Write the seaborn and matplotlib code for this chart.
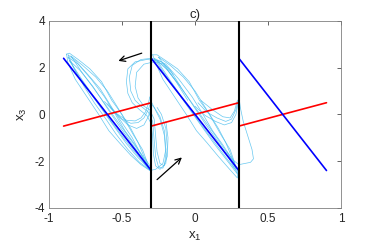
import numpy as np
import pandas as pd
import seaborn as sns
import matplotlib.pyplot as plt

# switching boundaries and the eigen-lines of each region
bounds = [-0.3, 0.3]
blue_x = [[-0.9, -0.3], [-0.3, 0.3], [0.3, 0.9]]
blue_y = [[2.4, -2.4], [2.4, -2.4], [2.4, -2.4]]
red_x = [[-0.9, -0.3], [-0.3, 0.3], [0.3, 0.9]]
red_y = [[-0.5, 0.5], [-0.5, 0.5], [-0.5, 0.5]]

# trajectory pieces (x1, x3)
traj = {
    'L1': [(-0.88, 2.58), (-0.87, 2.2), (-0.82, 1.5), (-0.74, 0.75), (-0.66, 0.0), (-0.59, -0.7),
           (-0.52, -1.2), (-0.44, -1.75), (-0.37, -2.15), (-0.31, -2.4), (-0.31, -2.2), (-0.35, -1.8),
           (-0.39, -1.2), (-0.44, -0.6), (-0.50, 0.0), (-0.57, 0.6), (-0.64, 1.4), (-0.72, 1.95),
           (-0.80, 2.35), (-0.86, 2.62), (-0.88, 2.58)],
    'L2': [(-0.87, 2.45), (-0.81, 1.75), (-0.72, 0.95), (-0.63, 0.15), (-0.55, -0.55), (-0.47, -1.25),
           (-0.39, -1.85), (-0.31, -2.35), (-0.34, -1.95), (-0.41, -1.3), (-0.48, -0.7), (-0.55, 0.05),
           (-0.62, 0.75), (-0.71, 1.5), (-0.80, 2.15), (-0.87, 2.45)],
    'L3': [(-0.86, 2.3), (-0.77, 1.45), (-0.67, 0.55), (-0.58, -0.25), (-0.49, -1.0), (-0.40, -1.7),
           (-0.32, -2.3), (-0.37, -1.8), (-0.45, -1.1), (-0.53, -0.4), (-0.61, 0.35), (-0.70, 1.2),
           (-0.79, 1.9), (-0.86, 2.3)],
    'L4': [(-0.85, 2.5), (-0.78, 1.85), (-0.68, 1.0), (-0.60, 0.3), (-0.53, -0.3), (-0.45, -1.0),
           (-0.37, -1.7), (-0.32, -2.25), (-0.33, -2.0), (-0.36, -1.5), (-0.42, -0.9), (-0.47, -0.35),
           (-0.53, 0.3), (-0.60, 1.0), (-0.68, 1.6), (-0.77, 2.1), (-0.85, 2.5)],
    'L5': [(-0.87, 2.55), (-0.83, 2.0), (-0.76, 1.2), (-0.69, 0.5), (-0.61, -0.2), (-0.54, -0.85),
           (-0.46, -1.5), (-0.38, -2.05), (-0.31, -2.38), (-0.33, -2.15), (-0.38, -1.6), (-0.43, -1.0),
           (-0.49, -0.45), (-0.56, 0.2), (-0.65, 1.1), (-0.74, 1.75), (-0.82, 2.3), (-0.87, 2.55)],
    'S1': [(-0.62, 0.55), (-0.56, 0.15), (-0.50, -0.2), (-0.44, -0.38), (-0.39, -0.35), (-0.35, -0.15),
           (-0.32, 0.2), (-0.30, 0.6)],
    'S2': [(-0.60, 0.45), (-0.54, 0.05), (-0.47, -0.25), (-0.41, -0.28), (-0.37, -0.15), (-0.34, 0.1),
           (-0.32, 0.45), (-0.31, 0.75)],
    'S3': [(-0.58, 0.3), (-0.52, -0.1), (-0.46, -0.45), (-0.40, -0.6), (-0.35, -0.45), (-0.32, -0.1),
           (-0.30, 0.3)],
    'T1': [(-0.05, 0.6), (-0.13, 1.4), (-0.20, 2.0), (-0.26, 2.3), (-0.33, 2.35), (-0.41, 2.25),
           (-0.46, 1.95), (-0.47, 1.4), (-0.46, 0.9), (-0.43, 0.5), (-0.38, 0.2), (-0.33, -0.05),
           (-0.30, -0.4), (-0.29, -1.0), (-0.285, -1.7), (-0.27, -2.2), (-0.24, -2.35), (-0.20, -2.1),
           (-0.19, -1.4), (-0.20, -0.6), (-0.23, 0.0), (-0.26, 0.3)],
    'T2': [(-0.10, 1.2), (-0.17, 1.9), (-0.23, 2.25), (-0.30, 2.4), (-0.37, 2.35), (-0.43, 2.1),
           (-0.45, 1.6), (-0.44, 1.0), (-0.41, 0.6), (-0.36, 0.3), (-0.32, 0.1), (-0.29, -0.3),
           (-0.28, -1.1), (-0.27, -1.8), (-0.25, -2.25), (-0.22, -2.3), (-0.19, -1.8), (-0.185, -1.0),
           (-0.20, -0.3)],
    'T3': [(-0.15, 1.7), (-0.21, 2.15), (-0.28, 2.25), (-0.35, 2.15), (-0.40, 1.8), (-0.41, 1.2),
           (-0.39, 0.7), (-0.35, 0.35), (-0.31, 0.2), (-0.28, -0.2), (-0.27, -0.9), (-0.26, -1.6),
           (-0.24, -2.1), (-0.21, -2.2), (-0.20, -1.7), (-0.21, -0.9), (-0.24, -0.2), (-0.28, 0.3),
           (-0.30, 0.55)],
    'V1': [(-0.31, -2.4), (-0.27, -2.35), (-0.22, -2.1), (-0.20, -1.5), (-0.21, -0.7), (-0.24, -0.1),
           (-0.28, 0.3), (-0.31, 0.5)],
    'M1': [(-0.29, 2.55), (-0.27, 2.2), (-0.22, 1.5), (-0.14, 0.75), (-0.06, 0.0), (0.01, -0.7),
           (0.08, -1.2), (0.16, -1.8), (0.23, -2.3), (0.29, -2.72), (0.29, -2.4), (0.25, -1.8),
           (0.21, -1.2), (0.16, -0.6), (0.10, 0.0), (0.03, 0.6), (-0.04, 1.4), (-0.12, 1.95),
           (-0.20, 2.3), (-0.26, 2.55), (-0.29, 2.55)],
    'M2': [(-0.28, 2.4), (-0.21, 1.75), (-0.12, 0.95), (-0.03, 0.15), (0.05, -0.55), (0.13, -1.25),
           (0.21, -1.9), (0.29, -2.55), (0.26, -2.0), (0.19, -1.3), (0.12, -0.7), (0.05, 0.05),
           (-0.02, 0.75), (-0.11, 1.5), (-0.20, 2.15), (-0.28, 2.4)],
    'M3': [(-0.26, 2.3), (-0.17, 1.45), (-0.07, 0.55), (0.02, -0.25), (0.11, -1.0), (0.20, -1.75),
           (0.28, -2.4), (0.23, -1.85), (0.15, -1.1), (0.07, -0.4), (-0.01, 0.35), (-0.10, 1.2),
           (-0.19, 1.9), (-0.26, 2.3)],
    'M4': [(-0.25, 2.45), (-0.18, 1.85), (-0.08, 1.0), (0.00, 0.3), (0.07, -0.3), (0.15, -1.0),
           (0.23, -1.75), (0.28, -2.3), (0.27, -2.05), (0.24, -1.5), (0.18, -0.9), (0.13, -0.35),
           (0.07, 0.3), (0.0, 1.0), (-0.08, 1.6), (-0.17, 2.1), (-0.25, 2.45)],
    'R1': [(0.02, 0.5), (0.08, 0.1), (0.15, -0.15), (0.21, -0.3), (0.25, -0.2), (0.28, 0.2), (0.30, 0.75)],
    'R2': [(0.0, 0.35), (0.07, -0.05), (0.14, -0.3), (0.20, -0.45), (0.25, -0.35), (0.28, 0.0), (0.295, 0.5)],
    'R3': [(0.04, 0.6), (0.12, 0.2), (0.19, -0.1), (0.24, -0.15), (0.27, 0.15), (0.29, 0.6)],
    'RL': [(0.30, 0.8), (0.31, 0.3), (0.33, -0.3), (0.36, -0.9), (0.39, -1.5), (0.40, -1.9), (0.38, -2.05),
           (0.34, -2.1), (0.30, -2.15), (0.26, -1.95), (0.22, -1.6)],
}

# arrows (tail, head)
arrows = [((-0.365, 2.62), (-0.525, 2.29)), ((-0.26, -2.79), (-0.09, -1.84))]

rows = []
for name, pts in traj.items():
    for k, (x, y) in enumerate(pts):
        rows.append((name, k, x, y))
df = pd.DataFrame(rows, columns=['path', 'k', 'x1', 'x3'])

lines = []
for i in range(3):
    for j in range(2):
        lines.append(('b%d' % i, blue_x[i][j], blue_y[i][j]))
        lines.append(('r%d' % i, red_x[i][j], red_y[i][j]))
ln = pd.DataFrame(lines, columns=['seg', 'x1', 'x3'])

sns.set_style('white')
plt.rcParams['font.family'] = ['Liberation Sans', 'DejaVu Sans']
plt.rcParams['mathtext.fontset'] = 'custom'
plt.rcParams['mathtext.rm'] = 'Liberation Sans'
plt.rcParams['mathtext.it'] = 'Liberation Sans'

fig = plt.figure(figsize=(3.74, 2.52), dpi=100)
ax = fig.add_axes([0.131, 0.175, 0.781, 0.742])

sns.lineplot(data=df, x='x1', y='x3', units='path', estimator=None, sort=False,
             color='#4dbeee', lw=0.5, alpha=0.85, ax=ax)
for b in bounds:
    ax.axvline(b, color='black', lw=1.5, zorder=3)
sns.lineplot(data=ln[ln.seg.str.startswith('r')], x='x1', y='x3', units='seg', estimator=None,
             sort=False, color='red', lw=1.2, ax=ax)
sns.lineplot(data=ln[ln.seg.str.startswith('b')], x='x1', y='x3', units='seg', estimator=None,
             sort=False, color='blue', lw=1.2, ax=ax)

for tail, head in arrows:
    ax.annotate('', xy=head, xytext=tail,
                arrowprops=dict(arrowstyle='->', color='black', lw=0.9, mutation_scale=10,
                                shrinkA=0, shrinkB=0))

ax.set_xlim(-1, 1)
ax.set_ylim(-4, 4)
ax.set_xticks([-1, -0.5, 0, 0.5, 1])
ax.set_xticklabels(['-1', '-0.5', '0', '0.5', '1'])
ax.set_yticks([-4, -2, 0, 2, 4])
ax.set_yticklabels(['-4', '-2', '0', '2', '4'])
ax.tick_params(direction='in', length=3, width=0.5, top=True, right=True,
               labelsize=8.5, colors='#262626', pad=4)
ax.tick_params(axis='y', pad=3)
for s in ax.spines.values():
    s.set_color('#808080')
    s.set_linewidth(0.6)
ax.set_xlabel('x$_{1}$', fontsize=9.5, color='#262626', labelpad=3)
ax.set_ylabel('x$_{3}$', fontsize=9.5, color='#262626', labelpad=4)
ax.set_title('c)', fontsize=9.5, color='#262626', pad=2)

fig.savefig('out.png', dpi=100)
